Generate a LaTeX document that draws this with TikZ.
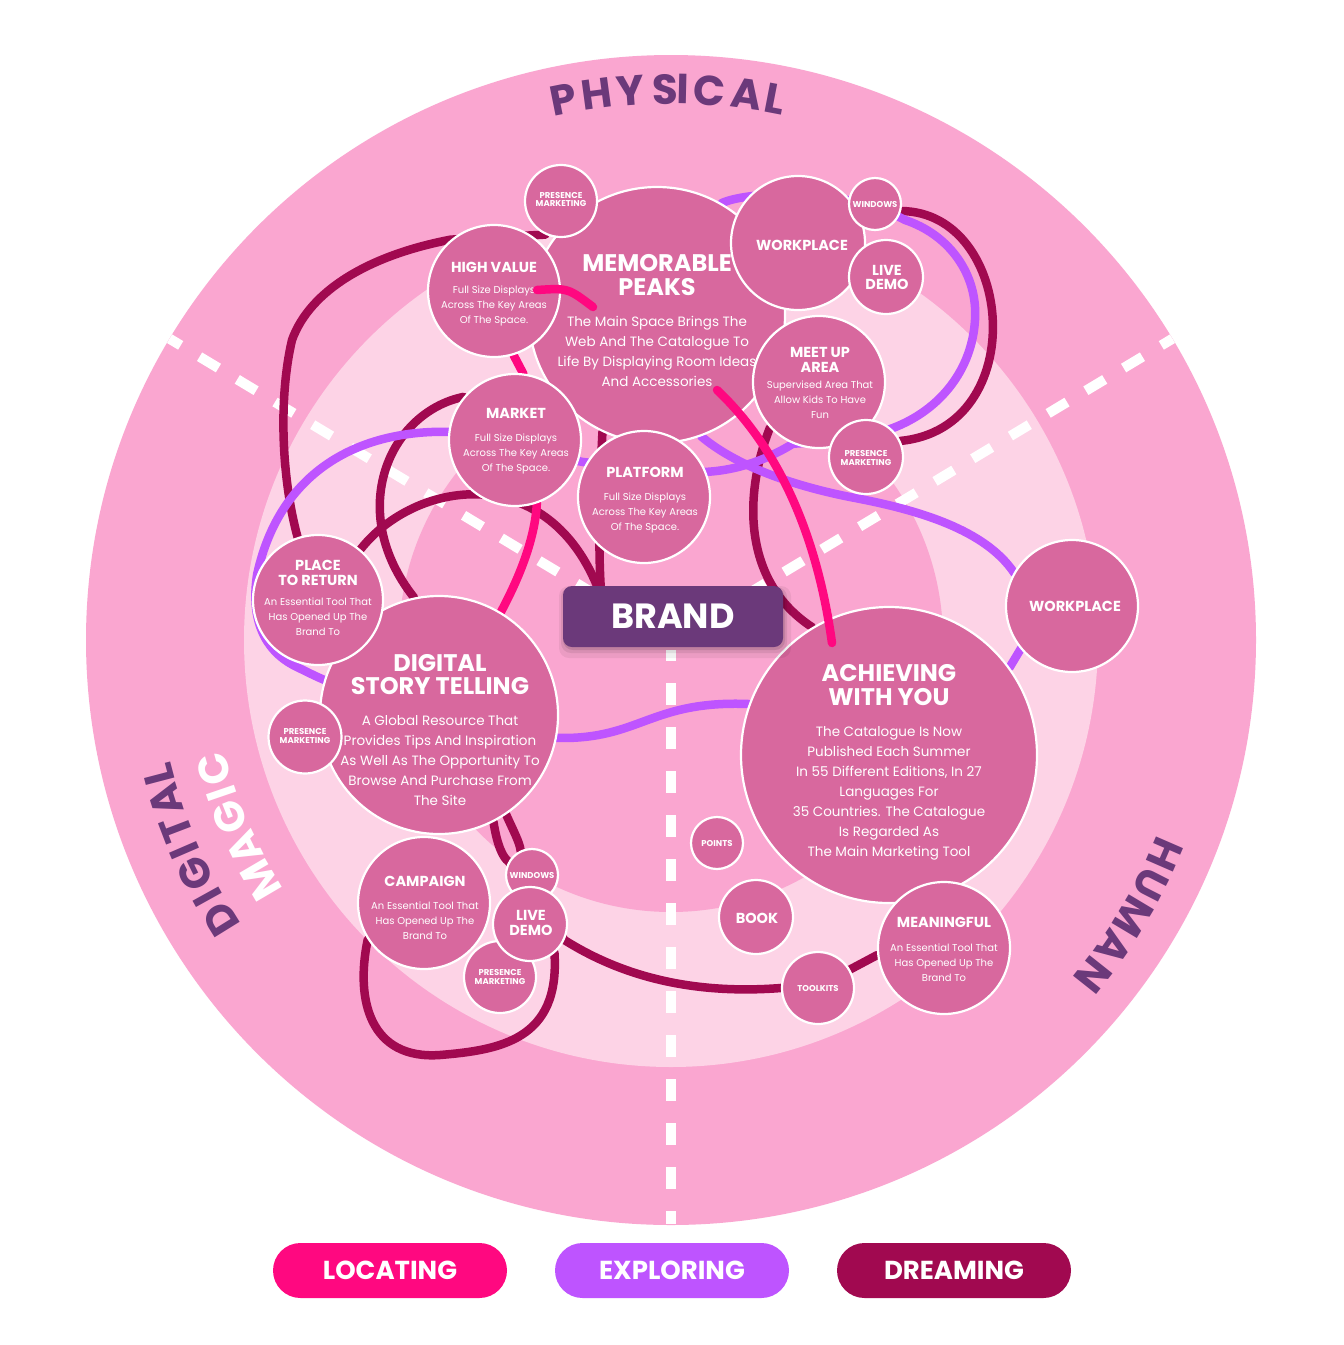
\documentclass[tikz,border=0pt]{standalone}
\usepackage{fontspec}
\setmainfont{Poppins}
\usetikzlibrary{calc}
\definecolor{ringA}{RGB}{250,166,208}
\definecolor{ringB}{RGB}{253,211,230}
\definecolor{bubble}{RGB}{216,104,158}
\definecolor{locate}{RGB}{255,8,128}
\definecolor{explore}{RGB}{190,84,255}
\definecolor{dream}{RGB}{161,9,80}
\definecolor{plum}{RGB}{107,57,122}
\tikzset{
  bub/.style={circle, fill=bubble, draw=white, line width=2.2pt, inner sep=0pt, minimum size=#1},
  ttl/.style 2 args={text=white, align=center, inner sep=0pt, anchor=base, font=\bfseries\fontsize{#1}{#2}\selectfont},
  bdy/.style 2 args={text=white, align=center, inner sep=0pt, anchor=base, font=\fontsize{#1}{#2}\selectfont},
  dashline/.style={white, line width=10pt, dash pattern=on 22pt off 22pt},
  lnDream/.style={draw=dream, line width=8.5pt, line cap=round},
  lnExplore/.style={draw=explore, line width=8.5pt, line cap=round},
  lnLocate/.style={draw=locate, line width=8.5pt, line cap=round},
  brandbox/.style={fill=plum, rounded corners=9pt, minimum width=220pt, minimum height=61pt, inner sep=0pt, text=white, font=\bfseries\fontsize{35}{35}\selectfont},
  shadowbox/.style={fill=black, rounded corners=10pt, minimum width=222pt, minimum height=62pt, inner sep=0pt},
  pill/.style={rounded corners=27.5pt, minimum width=234pt, minimum height=55pt, inner sep=0pt, text=white, font=\bfseries\fontsize{26}{26}\selectfont},
  rim/.style={inner sep=0pt, font=\bfseries\fontsize{42}{42}\selectfont}
}
\begin{document}
\begin{tikzpicture}[x=1pt,y=-1pt,line join=round]
\useasboundingbox (0,0) rectangle (1344,1345);
\fill[white] (0,0) rectangle (1344,1345);
\coordinate (ctr) at (671,640);
% rings
\fill[ringA] (ctr) circle [radius=585pt];
\fill[ringB] (ctr) circle [radius=427pt];
\fill[ringA] (ctr) circle [radius=272pt];
% dashed dividers
\draw[dashline] (ctr) -- ($(ctr)+(149:585pt)$);
\draw[dashline] (ctr) -- ($(ctr)+(31:585pt)$);
\coordinate (vtop) at (671,650);
\coordinate (vbot) at (671,1224);
\draw[dashline, dash phase=11pt] (vtop) -- (vbot);

% ---------- bubble positions (named, drawn later) ----------
\path
  (657,315) node[bub=256pt, draw=none, fill=none] (mp) {}
  (494,291) node[bub=132pt, draw=none, fill=none] (hv) {}
  (561,201) node[bub=72pt, draw=none, fill=none] (pmT) {}
  (798,243) node[bub=134pt, draw=none, fill=none] (wp) {}
  (875,204) node[bub=52pt, draw=none, fill=none] (wd) {}
  (886,277) node[bub=74pt, draw=none, fill=none] (ld) {}
  (819,382) node[bub=132pt, draw=none, fill=none] (mu) {}
  (866,457) node[bub=74pt, draw=none, fill=none] (pmr) {}
  (515,440) node[bub=132pt, draw=none, fill=none] (mk) {}
  (644,497) node[bub=132pt, draw=none, fill=none] (pf) {}
  (439,715) node[bub=238pt, draw=none, fill=none] (dst) {}
  (318,600) node[bub=130pt, draw=none, fill=none] (p2r) {}
  (305,737) node[bub=73pt, draw=none, fill=none] (pml) {}
  (424,903) node[bub=132pt, draw=none, fill=none] (cp) {}
  (500,977) node[bub=72pt, draw=none, fill=none] (pmb) {}
  (532,875) node[bub=52pt, draw=none, fill=none] (wdb) {}
  (530,924) node[bub=74pt, draw=none, fill=none] (ldb) {}
  (889,755) node[bub=296pt, draw=none, fill=none] (ach) {}
  (944,948) node[bub=132pt, draw=none, fill=none] (mf) {}
  (1072,606) node[bub=132pt, draw=none, fill=none] (wpr) {}
  (717,843) node[bub=52pt, draw=none, fill=none] (pt) {}
  (756,917) node[bub=74pt, draw=none, fill=none] (bk) {}
  (818,988) node[bub=72pt, draw=none, fill=none] (tk) {}
  (673,616.5) node[brandbox, fill=none, text opacity=0] (brandpos) {BRAND};

% ---------- DREAMING connectors ----------
\draw[lnDream] (pmT.-115) -- (hv.130) .. controls (370,255) and (310,290) .. (292,340)
   .. controls (278,400) and (282,480) .. (p2r.108);
\draw[lnDream] (mk.140) .. controls (390,412) and (345,510) .. (dst.102);
\draw[lnDream] (p2r.50) .. controls (415,480) and (545,460) .. (brandpos.158);
\draw[lnDream] (mp.-115) .. controls (600,480) and (598,540) .. (brandpos.157);
\draw[lnDream] (mu.-137) .. controls (745,490) and (740,580) .. (ach.121);
\draw[lnDream] (wd.-15) .. controls (1015,212) and (1032,428) .. (pmr.25);
\draw[lnDream] (dst.-63) .. controls (497,845) and (503,858) .. (wdb.150) -- (ldb.-25)
   .. controls (620,975) and (690,995) .. (tk.180) -- (tk.30) -- (mf.186);
\draw[lnDream] (dst.-56) .. controls (513,830) and (520,843) .. (wdb.115) -- (ldb.-50)
   .. controls (560,1040) and (500,1050) .. (440,1055)
   .. controls (370,1060) and (355,1000) .. (cp.-147);

% ---------- EXPLORING connectors ----------
\draw[lnExplore] (mp.60) .. controls (745,192) and (840,185) .. (905,220)
   .. controls (950,235) and (978,275) .. (975,320)
   .. controls (972,370) and (940,410) .. (893,428)
   .. controls (860,440) and (820,442) .. (mu.-113)
   .. controls (770,458) and (740,470) .. (pf.22)
   .. controls (660,470) and (610,465) .. (583,462)
   .. controls (545,455) and (480,433) .. (mk.173)
   .. controls (360,430) and (280,470) .. (p2r.157)
   .. controls (250,620) and (265,650) .. (293,665)
   .. controls (305,671) and (315,676) .. (dst.163);
\draw[lnExplore] (dst.-11) .. controls (640,740) and (650,700) .. (ach.160);
\draw[lnExplore] (mp.-70) .. controls (735,465) and (790,485) .. (850,497)
   .. controls (920,510) and (985,530) .. (wpr.150)
   .. controls (1045,600) and (1035,630) .. (wpr.-140) -- (ach.36);

% ---------- LOCATING connector beneath bubbles ----------
\draw[lnLocate] (hv.-73) -- (mk.83) -- (mk.-71) .. controls (535,540) and (518,580) .. (dst.59);

% ---------- bubbles drawn ----------
\foreach \n/\d in {mp/256, hv/132, pmT/72, wp/134, wd/52, ld/74, mu/132, pmr/74, mk/132, pf/132,
                   dst/238, p2r/130, pml/73, cp/132, pmb/72, wdb/52, ldb/74,
                   ach/296, mf/132, wpr/132, pt/52, bk/74, tk/72}
  \node[bub=\d pt] (b\n) at (\n.center) {};

% ---------- bubble texts (anchor = baseline of last line) ----------
\node[ttl={24}{24}] (mpT) at (657,295.4) {MEMORABLE\\PEAKS};
\node[bdy={13.5}{20}] (mpB) at (657,386.5) {The Main Space Brings The\\Web And The Catalogue To\\Life By Displaying Room Ideas\\And Accessories};
\node[ttl={14.5}{15}] (hvT) at (494,272) {HIGH VALUE};
\node[bdy={10}{15}] (hvB) at (494,323.3) {Full Size Displays\\Across The Key Areas\\Of The Space.};
\node[ttl={8.5}{8.5}] (pmTt) at (561,206.5) {PRESENCE\\MARKETING};
\node[ttl={14.5}{15}] (wpT) at (802,250) {WORKPLACE};
\node[ttl={8.5}{8.5}] (wdT) at (875,207) {WINDOWS};
\node[ttl={14.5}{14.5}] (ldT) at (887,289.5) {LIVE\\DEMO};
\node[ttl={14.5}{15}] (muT) at (820,372) {MEET UP\\AREA};
\node[bdy={10}{15}] (muB) at (820,418.3) {Supervised Area That\\Allow Kids To Have\\Fun};
\node[ttl={8.5}{9}] (pmrT) at (866,465) {PRESENCE\\MARKETING};
\node[ttl={14.5}{15}] (mkT) at (516,418) {MARKET};
\node[bdy={10}{15}] (mkB) at (516,471.3) {Full Size Displays\\Across The Key Areas\\Of The Space.};
\node[ttl={14.5}{15}] (pfT) at (645,477) {PLATFORM};
\node[bdy={10}{15}] (pfB) at (645,530.3) {Full Size Displays\\Across The Key Areas\\Of The Space.};
\node[ttl={14.5}{15}] (p2rT) at (318,585) {PLACE\\TO RETURN};
\node[bdy={10}{15}] (p2rB) at (318,635.3) {An Essential Tool That\\Has Opened Up The\\Brand To};
\node[ttl={24}{23}] (dstT) at (440,694.4) {DIGITAL\\STORY TELLING};
\node[bdy={13.5}{20}] (dstB) at (440,805.5) {A Global Resource That\\Provides Tips And Inspiration\\As Well As The Opportunity To\\Browse And Purchase From\\The Site};
\node[ttl={8.5}{9}] (pmlT) at (305,743) {PRESENCE\\MARKETING};
\node[ttl={14.5}{15}] (cpT) at (425,886) {CAMPAIGN};
\node[bdy={10}{15}] (cpB) at (425,939.3) {An Essential Tool That\\Has Opened Up The\\Brand To};
\node[ttl={8.5}{8.5}] (wdbT) at (532,878) {WINDOWS};
\node[ttl={14.5}{15}] (ldbT) at (531,935) {LIVE\\DEMO};
\node[ttl={8.5}{9}] (pmbT) at (500,984) {PRESENCE\\MARKETING};
\node[ttl={24}{24}] (achT) at (889,705.4) {ACHIEVING\\WITH YOU};
\node[bdy={13.5}{20}] (achB) at (889,856.5) {The Catalogue Is Now\\Published Each Summer\\In 55 Different Editions, In 27\\Languages For\\35 Countries. The Catalogue\\Is Regarded As\\The Main Marketing Tool};
\node[ttl={8.5}{8.5}] (ptT) at (717,846) {POINTS};
\node[ttl={14.5}{15}] (bkT) at (757,923) {BOOK};
\node[ttl={8.5}{8.5}] (tkT) at (818,991) {TOOLKITS};
\node[ttl={14.5}{15}] (mfT) at (944,927) {MEANINGFUL};
\node[bdy={10}{15}] (mfB) at (944,981.3) {An Essential Tool That\\Has Opened Up The\\Brand To};
\node[ttl={14.5}{15}] (wprT) at (1075,611) {WORKPLACE};

% ---------- BRAND ----------
\node[shadowbox, opacity=0.06, minimum width=232pt, minimum height=72pt] (bsh1) at (675,622) {};
\node[shadowbox, opacity=0.08, minimum width=226pt, minimum height=66pt] (bsh2) at (674,620) {};
\node[shadowbox, opacity=0.10] (bsh3) at (674,619) {};
\node[brandbox] (brand) at (673,616.5) {BRAND};

% ---------- LOCATING connectors above bubbles ----------
\coordinate (pkA) at (537,290);
\coordinate (pkB) at (593,307);
\draw[lnLocate] (pkA) .. controls (568,288) .. (pkB);
\coordinate (pkC) at (717,390);
\coordinate (pkD) at (832,643);
\draw[lnLocate] (pkC) .. controls (770,440) and (815,520) .. (pkD);

% ---------- rim labels ----------
\foreach \l/\a [count=\i] in {P/101.3, H/97.7, Y/94.2, S/90.6, I/88.75, C/86.0, A/82.1, L/79.1}
  \node[rim, text=plum, rotate=\a-90] (ph\i) at ($(ctr)+(\a:551pt)$) {\l};
\foreach \l/\a [count=\i] in {D/211.8, I/209.0, G/206.2, I/203.4, T/200.9, A/197.6, L/194.7}
  \node[rim, text=plum, rotate=\a-90] (dg\i) at ($(ctr)+(\a:530pt)$) {\l};
\foreach \l/\a [count=\i] in {M/210.4, A/206.0, G/201.9, I/198.9, C/195.8}
  \node[rim, text=white, rotate=\a-90] (mg\i) at ($(ctr)+(\a:475pt)$) {\l};
\foreach \l/\a [count=\i] in {H/-23.5, U/-27.0, M/-30.9, A/-34.8, N/-38.4}
  \node[rim, text=plum, rotate=\a-90] (hu\i) at ($(ctr)+(\a:539pt)$) {\l};

% ---------- legend ----------
\node[pill, fill=locate] (lgLoc) at (390,1270.5) {LOCATING};
\node[pill, fill=explore] (lgExp) at (672,1270.5) {EXPLORING};
\node[pill, fill=dream] (lgDrm) at (954,1270.5) {DREAMING};
\end{tikzpicture}
\end{document}
